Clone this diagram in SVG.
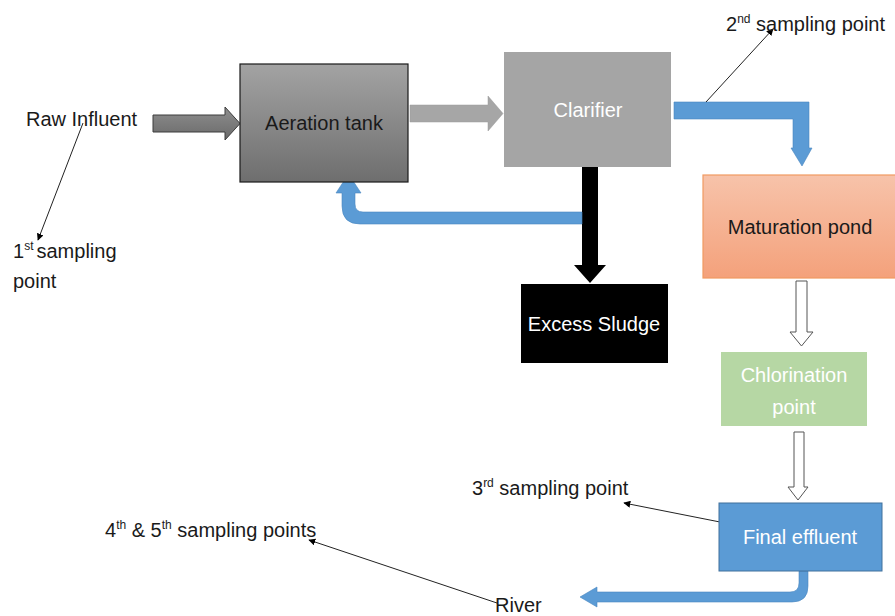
<svg xmlns="http://www.w3.org/2000/svg" width="895" height="616" viewBox="0 0 895 616">
<defs>
<linearGradient id="gAer" x1="0" y1="0" x2="0" y2="1"><stop offset="0" stop-color="#a3a3a3"/><stop offset="1" stop-color="#6e6e6e"/></linearGradient>
<linearGradient id="gIn" x1="0" y1="0" x2="0" y2="1"><stop offset="0" stop-color="#8e8e8e"/><stop offset="1" stop-color="#6a6a6a"/></linearGradient>
<linearGradient id="gMat" x1="0" y1="0" x2="0" y2="1"><stop offset="0" stop-color="#f7c3aa"/><stop offset="1" stop-color="#f4a17b"/></linearGradient>
<marker id="ah" viewBox="0 0 10 10" refX="9" refY="5" markerWidth="7" markerHeight="7" orient="auto" markerUnits="userSpaceOnUse"><path d="M0,0 L10,5 L0,10 Z" fill="#000"/></marker>
<style>
text{font-family:"Liberation Sans",Arial,sans-serif;font-size:20px;fill:#1a1a1a}
.w{fill:#fff}
.c{text-anchor:middle}
.sup{font-size:12px}
.lead{stroke:#222;stroke-width:1;fill:none;marker-end:url(#ah)}
.blue{fill:#5b9bd5;stroke:#4a86c0;stroke-width:0.6}
.hollow{fill:#fff;stroke:#555;stroke-width:1}
</style>
</defs>
<rect width="895" height="616" fill="#fff"/>

<g id="connectors">
<path id="in-arrow" d="M153,115 H225 V107 L240,123.5 L225,140 V132 H153 Z" fill="url(#gIn)" stroke="#3c3c3c" stroke-width="1"/>
<path id="aer-clar" d="M410,105 H488 V96 L503,113.5 L488,131 V122 H410 Z" fill="#a6a6a6" stroke="#999" stroke-width="0.5"/>
<path id="clar-sludge" d="M582,167 H598 V265 H606 L590,283 L574,265 H582 Z" fill="#000"/>
<path id="return" class="blue" d="M582,212 H363 Q355,212 355,204 V193 H361 L348.5,174 L336,193 H342 V206 Q342,224 360,224 H582 Z"/>
<path id="clar-mat" class="blue" d="M674,102 H809 V148 H812 L802,166 L791,148 H793 V119 H674 Z"/>
<path id="mat-chl" class="hollow" d="M796,281 H807 V332 H813 L801.5,346 L790,332 H796 Z"/>
<path id="chl-fin" class="hollow" d="M794,432 H804 V487 H808 L798,500 L788,487 H794 Z"/>
<path id="fin-river" class="blue" d="M799,571 H808 V586 Q808,602 792,602 H597 V607 L580,597 L597,587 V592 H790 Q799,592 799,583 Z"/>
<line class="lead" x1="83" y1="123" x2="38" y2="240"/>
<line class="lead" x1="706" y1="102" x2="773" y2="29"/>
<line class="lead" x1="720" y1="522" x2="624" y2="503"/>
<line class="lead" x1="497" y1="603" x2="309" y2="540"/>
</g>

<g id="raw-influent"><text x="26" y="126">Raw Influent</text></g>
<g id="sp1"><text x="13" y="258">1<tspan class="sup" dy="-8">st</tspan><tspan dy="8" dx="3">sampling</tspan></text><text x="13" y="288">point</text></g>

<g id="aeration-tank">
<rect x="240" y="64" width="168" height="118" fill="url(#gAer)" stroke="#1a1a1a" stroke-width="1.2"/>
<text class="c" x="324" y="130">Aeration tank</text>
</g>

<g id="clarifier">
<rect x="504" y="52" width="167" height="115" fill="#a5a5a5"/>
<text class="c w" x="588" y="117">Clarifier</text>
</g>

<g id="excess-sludge">
<rect x="521" y="284" width="147" height="79" fill="#000"/>
<text class="c w" x="594" y="331">Excess Sludge</text>
</g>

<g id="sp2"><text x="726" y="31">2<tspan class="sup" dy="-8">nd</tspan><tspan dy="8"> sampling point</tspan></text></g>

<g id="maturation-pond">
<rect x="703" y="175" width="194" height="103" fill="url(#gMat)" stroke="#f19a62" stroke-width="1.2"/>
<text class="c" x="800" y="234">Maturation pond</text>
</g>

<g id="chlorination-point">
<rect x="721" y="352" width="146" height="74" fill="#b6d7a4"/>
<text class="c w" x="794" y="382">Chlorination</text>
<text class="c w" x="794" y="414">point</text>
</g>

<g id="final-effluent">
<rect x="719" y="503" width="163" height="68" fill="#5b9bd5" stroke="#41719c" stroke-width="1"/>
<text class="c w" x="800" y="544">Final effluent</text>
</g>

<g id="sp3"><text x="472" y="495">3<tspan class="sup" dy="-8">rd</tspan><tspan dy="8"> sampling point</tspan></text></g>
<g id="sp45"><text x="105" y="537">4<tspan class="sup" dy="-8">th</tspan><tspan dy="8"> &amp; 5</tspan><tspan class="sup" dy="-8">th</tspan><tspan dy="8"> sampling points</tspan></text></g>
<g id="river"><text x="495" y="612">River</text></g>
</svg>
